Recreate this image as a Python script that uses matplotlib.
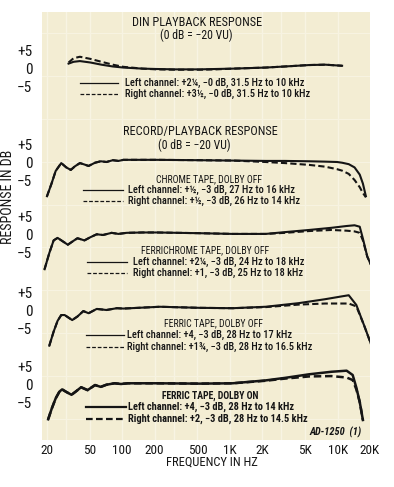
import matplotlib
matplotlib.use("Agg")
import matplotlib.pyplot as plt
from matplotlib.lines import Line2D
import numpy as np

plt.rcParams['font.family'] = ['Roboto Condensed', 'DejaVu Sans']

# ---------------- data (freq in Hz, response in dB) ----------------
din_freq = [31.5, 35, 40, 50, 63, 80, 100, 150, 200, 300, 500, 700, 1000, 2000, 3000, 5000, 7000, 10000]
din_left = [1.5, 2.0, 2.2, 1.8, 1.2, 0.7, 0.4, 0.1, 0.0, -0.1, -0.1, 0.0, 0.1, 0.4, 0.7, 1.1, 1.2, 0.9]
din_right = [1.8, 3.0, 3.4, 2.8, 2.0, 1.2, 0.6, 0.1, -0.1, -0.2, -0.2, -0.1, 0.1, 0.4, 0.7, 1.1, 1.2, 0.9]

chrome_freq = [20, 22, 24, 27, 30, 33, 36, 40, 44, 48, 55, 62, 70, 80, 90, 100, 150, 200, 500,
               1000, 2000, 3000, 5000, 7000, 9000, 10000, 11500, 13000, 14500, 15500, 16500]
chrome_left = [-9.5, -6, -2.5, -0.3, -1.5, -2.2, -1.2, -0.3, -0.7, -1.1, -0.2, 0.2, 0.0, 0.5, 0.3, 0.6,
               0.6, 0.6, 0.5, 0.4, 0.3, 0.3, 0.2, 0.1, 0.0, -0.2, -0.6, -1.5, -3.5, -6.0, -9.5]
chrome_right = [-9.5, -6, -2.5, -0.3, -1.5, -2.2, -1.2, -0.3, -0.7, -1.1, -0.2, 0.2, 0.0, 0.5, 0.3, 0.6,
                0.6, 0.6, 0.5, 0.4, 0.0, -0.3, -0.8, -1.3, -2.0, -2.4, -3.3, -5.0, -7.0, -8.6, -9.8]

fchrome_freq = [19, 21, 23, 25, 28, 31, 35, 38, 44, 50, 57, 65, 78, 90, 107, 150, 200, 500, 1000,
                2000, 3000, 5000, 8000, 11000, 13000, 14500, 15500, 17000, 18500]
fchrome_left = [-9.5, -5, -1.5, -0.8, -1.8, -2.7, -1.6, -0.9, -1.5, -0.6, 0.2, 0.0, 0.6, 0.3, 0.6, 0.7,
                0.7, 0.5, 0.3, 0.3, 0.8, 1.4, 2.0, 2.5, 2.7, 2.3, -1.0, -6.0, -8.5]
fchrome_right = [-9.5, -5, -1.5, -0.8, -1.8, -2.7, -1.6, -0.9, -1.5, -0.6, 0.2, 0.0, 0.6, 0.3, 0.6, 0.7,
                 0.7, 0.5, 0.3, 0.3, 0.6, 1.1, 1.4, 1.2, 1.0, 0.6, -1.5, -6.0, -8.5]

foff_freq = [21, 23, 25, 27, 29, 34, 38, 43, 48, 57, 70, 87, 100, 216, 500, 1000, 2000, 4000, 7000,
             10000, 11500, 13500, 16000, 18500]
foff_left = [-9.9, -6, -3, -1.4, -1.4, -2.8, -1.8, -0.3, -0.9, 0.3, 0.0, 0.5, 0.4, 0.9, 0.6, 0.5, 0.9,
             1.9, 3.0, 3.8, 4.1, 1.4, -4.5, -9.7]
foff_right = [-9.9, -6, -3, -1.4, -1.4, -2.8, -1.8, -0.3, -0.9, 0.3, 0.0, 0.5, 0.4, 0.9, 0.6, 0.5, 0.8,
              1.5, 1.8, 1.8, 1.8, 1.0, -4.5, -9.7]

fon_freq = [20.5, 22, 24, 26, 27.5, 30, 33.5, 37, 41, 47, 55, 62, 70, 83, 95, 110, 200, 500, 1000,
            2000, 3000, 5000, 8000, 11000, 12500, 13500, 14500, 15500]
fon_left = [-9.8, -7, -4, -2.1, -1.5, -2.2, -3, -2, -0.9, -1.7, -0.3, -0.8, -0.2, 0.2, 0.0, 0.2, 0.2,
            0.1, 0.2, 1.0, 1.7, 2.7, 3.4, 3.7, 2.5, -1.0, -5.0, -10.0]
fon_right = [-9.8, -7, -4, -2.1, -1.5, -2.2, -3, -2, -0.9, -1.7, -0.3, -0.8, -0.2, 0.2, 0.0, 0.2, 0.2,
             0.1, 0.2, 0.9, 1.5, 2.1, 2.2, 1.8, 1.1, -1.5, -5.0, -10.0]

tick_freqs = [20, 50, 100, 200, 500, 1000, 2000, 5000, 10000, 20000]
tick_names = ['20', '50', '100', '200', '500', '1K', '2K', '5K', '10K', '20K']

panels = [
    (din_freq, din_left, din_right, None,
     'Left channel: +2\u00bc, \u22120 dB, 31.5 Hz to 10 kHz',
     'Right channel: +3\u00bd, \u22120 dB, 31.5 Hz to 10 kHz'),
    (chrome_freq, chrome_left, chrome_right, 'CHROME TAPE, DOLBY OFF',
     'Left channel: +\u00bd, \u22123 dB, 27 Hz to 16 kHz',
     'Right channel: +\u00bd, \u22123 dB, 26 Hz to 14 kHz'),
    (fchrome_freq, fchrome_left, fchrome_right, 'FERRICHROME TAPE, DOLBY OFF',
     'Left channel: +2\u00bc, \u22123 dB, 24 Hz to 18 kHz',
     'Right channel: +1, \u22123 dB, 25 Hz to 18 kHz'),
    (foff_freq, foff_left, foff_right, 'FERRIC TAPE, DOLBY OFF',
     'Left channel: +4, \u22123 dB, 28 Hz to 17 kHz',
     'Right channel: +1\u00be, \u22123 dB, 28 Hz to 16.5 kHz'),
    (fon_freq, fon_left, fon_right, 'FERRIC TAPE, DOLBY ON',
     'Left channel: +4, \u22123 dB, 28 Hz to 14 kHz',
     'Right channel: +2, \u22123 dB, 28 Hz to 14.5 kHz'),
]

# ---------------- layout (pixels) ----------------
W, H = 394, 487
cream = '#f3edd3'
ink = '#151515'
zero_px = [69, 162, 235, 310, 384]
ppd = 3.6  # pixels per dB
left_px, right_px = 42, 370
title_y = [None, 179, 250, 323, 396]
leg_y = [(83, 94), (190, 201), (262, 273), (335, 347), (407, 419)]
leg_x = [(80, 118, 125), (83, 123, 128), (87, 127, 133), (86, 124, 127), (86, 126, 128)]
title_x = [None, 209, 205, 213, 210]


def fx(px):
    return px / W


def fy(py):
    return 1 - py / H


fig = plt.figure(figsize=(W / 100, H / 100), dpi=100)

# cream background panel, carries the frequency axis
bg = fig.add_axes([fx(left_px), fy(440), (right_px - left_px) / W, (440 - 12) / H])
bg.set_facecolor(cream)
bg.set_xscale('log')
bg.set_xlim(18, 18000)
bg.set_ylim(0, 1)
for s in bg.spines.values():
    s.set_visible(False)
for g in [20, 30, 50, 100, 200, 300, 500, 1000, 2000, 3000, 5000, 10000]:
    bg.axvline(g, color='#f8f4e3', lw=1.0, zorder=0)
for g in np.linspace(0.05, 0.95, 10):
    bg.axhline(g, color='#f7f3e1', lw=0.8, zorder=0)
bg.set_xticks(tick_freqs)
bg.set_xticklabels(tick_names)
bg.xaxis.set_minor_locator(matplotlib.ticker.NullLocator())
bg.tick_params(axis='x', length=0, pad=3, labelsize=9.5, colors=ink)
bg.set_yticks([])
bg.set_xlabel('FREQUENCY IN HZ', fontsize=9, color=ink)
bg.xaxis.set_label_coords((212 - left_px) / (right_px - left_px), -(456 - 440) / 428)

for i, (freq, lch, rch, ttl, ltxt, rtxt) in enumerate(panels):
    z = zero_px[i]
    top = z - 8 * ppd
    bot = z + 12 * ppd
    ax = fig.add_axes([fx(left_px), fy(bot), (right_px - left_px) / W, (bot - top) / H])
    ax.patch.set_alpha(0)
    ax.set_xscale('log')
    ax.set_xlim(18, 18000)
    ax.set_ylim(-12, 8)
    for s in ax.spines.values():
        s.set_visible(False)
    ax.set_xticks([])
    ax.xaxis.set_minor_locator(matplotlib.ticker.NullLocator())
    ax.set_yticks([5, 0, -5])
    ax.set_yticklabels(['+5', '0', '\u22125'])
    ax.tick_params(axis='y', length=0, pad=7, labelsize=11, colors=ink)
    lw = 1.8 if i == 4 else 1.5
    ax.plot(freq, rch, color=ink, lw=lw, ls=(0, (3, 1.5)))
    ax.plot(freq, lch, color=ink, lw=lw)

    bold = 'bold' if i == 4 else 'medium'
    if ttl:
        fig.text(fx(title_x[i]), fy(title_y[i]), ttl, ha='center', va='center',
                 fontsize=7, color=ink, fontweight='bold' if i == 4 else 'normal')
    x0, x1, xt = leg_x[i]
    yl, yr = leg_y[i]
    llw = 1.6 if i == 4 else 0.9
    fig.add_artist(Line2D([fx(x0), fx(x1)], [fy(yl), fy(yl)], color=ink, lw=llw))
    fig.add_artist(Line2D([fx(x0), fx(x1)], [fy(yr), fy(yr)], color=ink, lw=llw, ls=(0, (3, 1.5))))
    fig.text(fx(xt), fy(yl), ltxt, ha='left', va='center', fontsize=7.5, color=ink, fontweight=bold)
    fig.text(fx(xt), fy(yr), rtxt, ha='left', va='center', fontsize=7.5, color=ink, fontweight=bold)

fig.text(fx(197), fy(23), 'DIN PLAYBACK RESPONSE', ha='center', va='center', fontsize=8.8, color=ink)
fig.text(fx(196), fy(35), '(0 dB = \u221220 VU)', ha='center', va='center', fontsize=8.5, color=ink)
fig.text(fx(200), fy(132), 'RECORD/PLAYBACK RESPONSE', ha='center', va='center', fontsize=8.8, color=ink)
fig.text(fx(194), fy(145), '(0 dB = \u221220 VU)', ha='center', va='center', fontsize=8.5, color=ink)
fig.text(fx(8), fy(197), 'RESPONSE IN DB', rotation=90, ha='center', va='center', fontsize=10, color=ink)
fig.text(fx(362), fy(432), 'AD-1250  (1)', ha='right', va='center', fontsize=7.5,
         fontweight='bold', fontstyle='italic', color=ink)

fig.savefig('out.png', dpi=100, facecolor='white')
